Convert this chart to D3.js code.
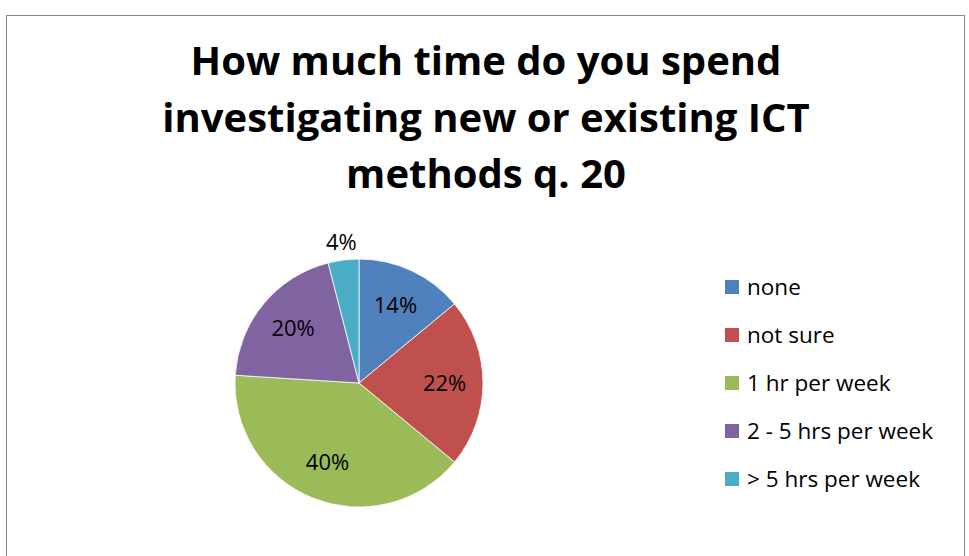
<!DOCTYPE html>
<html>
<head>
<meta charset="utf-8">
<script src="https://cdn.jsdelivr.net/npm/d3@7"></script>
<style>
  body { margin: 0; background: #fff; }
  svg { display: block; font-family: "Open Sans", "Liberation Sans", sans-serif; }
</style>
</head>
<body>
<div id="chart"></div>
<script>
// chart data
const categories = ["none", "not sure", "1 hr per week", "2 - 5 hrs per week", "> 5 hrs per week"];
const values = [14, 22, 40, 20, 4];
const colors = ["#4f81bd", "#c0504d", "#9bbb59", "#8064a2", "#4bacc6"];
const titleLines = ["How much time do you spend", "investigating new or existing ICT", "methods q. 20"];

const width = 969, height = 556;
const cx = 359, cy = 383, radius = 124;

const svg = d3.select("#chart")
    .append("svg")
    .attr("width", width)
    .attr("height", height);

// outer frame
svg.append("rect")
    .attr("x", 6.5).attr("y", 15.5)
    .attr("width", 958).attr("height", 560)
    .attr("fill", "#fff")
    .attr("stroke", "#898989")
    .attr("stroke-width", 1);

// title
svg.append("g")
    .selectAll("text")
    .data(titleLines)
    .enter()
    .append("text")
    .attr("x", 486)
    .attr("y", (d, i) => 75 + i * 56.5)
    .attr("text-anchor", "middle")
    .attr("font-size", 40)
    .attr("font-weight", "bold")
    .attr("fill", "#000")
    .text(d => d);

const color = d3.scaleOrdinal().domain(categories).range(colors);

const pie = d3.pie().sort(null).value(d => d.value);
const data_ready = pie(categories.map((c, i) => ({key: c, value: values[i]})));

const arc = d3.arc().innerRadius(0).outerRadius(radius);

const g = svg.append("g")
    .attr("transform", "translate(" + cx + "," + cy + ")");

g.selectAll("path")
    .data(data_ready)
    .enter()
    .append("path")
    .attr("d", arc)
    .attr("fill", d => color(d.data.key))
    .attr("stroke", "#fff")
    .attr("stroke-width", 0.8);

// percentage labels; the small slice goes outside
const inner = d3.arc().innerRadius(radius * 0.69).outerRadius(radius * 0.69);
const outer = d3.arc().innerRadius(radius * 1.14).outerRadius(radius * 1.14);
g.selectAll("text")
    .data(data_ready)
    .enter()
    .append("text")
    .attr("transform", d => "translate(" + (d.data.value < 6 ? outer : inner).centroid(d) + ")")
    .attr("text-anchor", "middle")
    .attr("dy", "0.35em")
    .attr("font-size", 22)
    .attr("fill", "#000")
    .text(d => d.data.value + "%");

// legend
const legend = svg.append("g")
    .selectAll("g")
    .data(categories)
    .enter()
    .append("g")
    .attr("transform", (d, i) => "translate(725," + (287 + i * 48) + ")");

legend.append("rect")
    .attr("x", 0).attr("y", -7)
    .attr("width", 14).attr("height", 14)
    .attr("fill", d => color(d));

legend.append("text")
    .attr("x", 22)
    .attr("dy", "0.35em")
    .attr("font-size", 22.5)
    .attr("fill", "#000")
    .text(d => d);
</script>
</body>
</html>
